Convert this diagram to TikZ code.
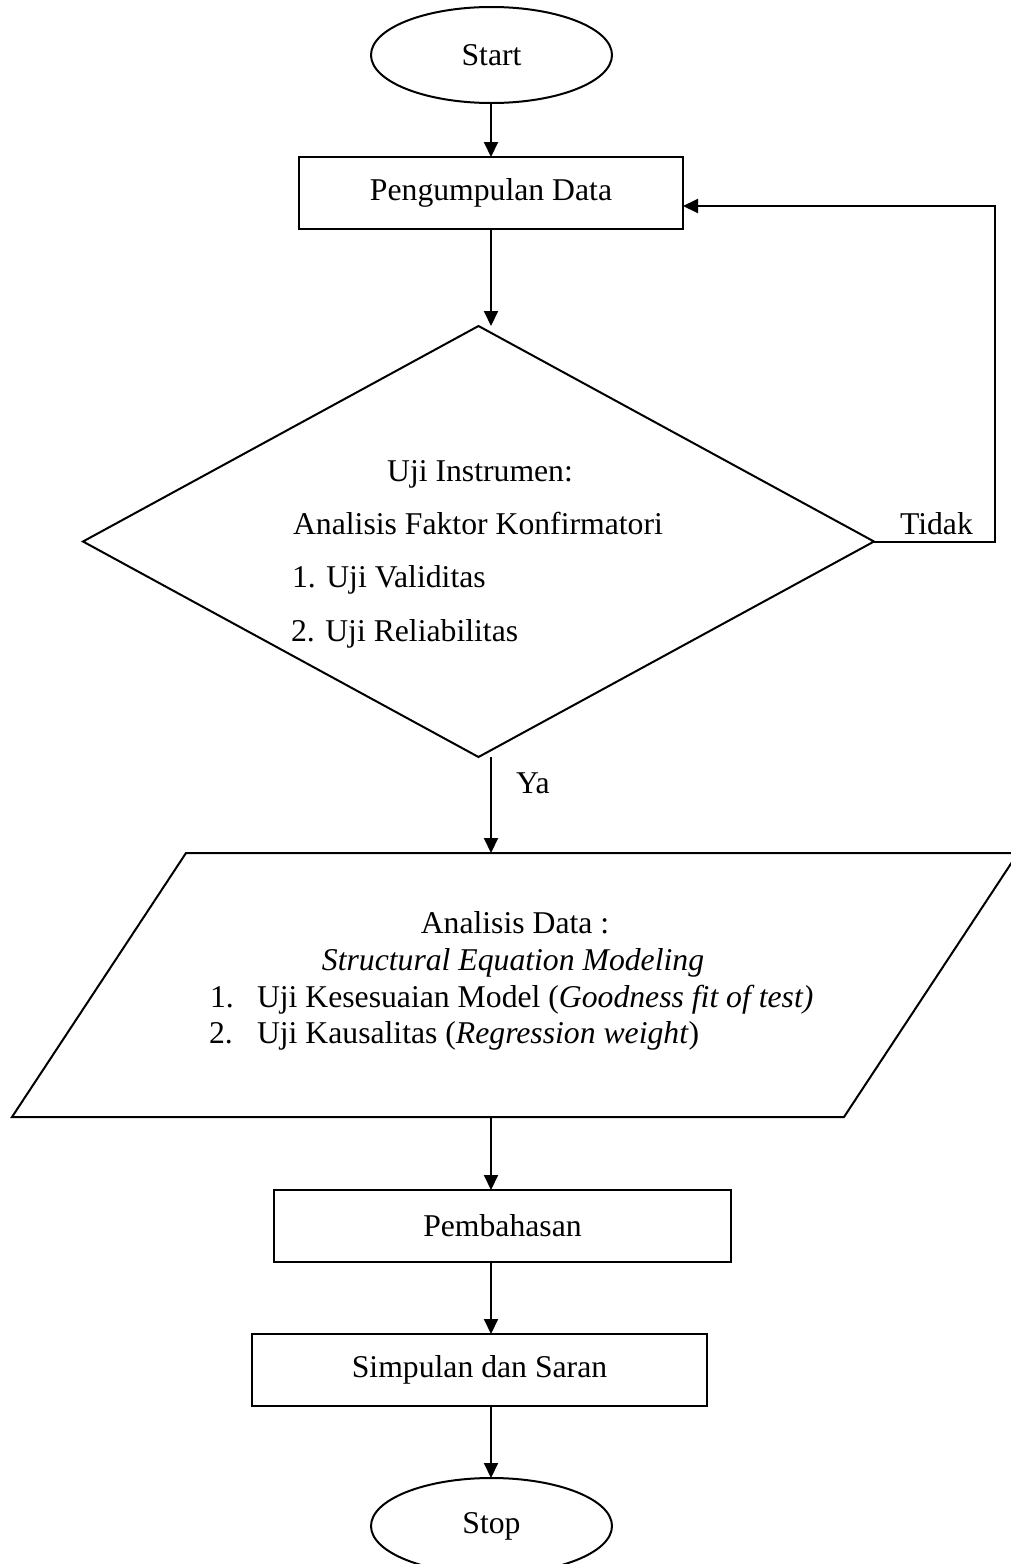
\documentclass[tikz,border=0pt]{standalone}
\usepackage{fontspec}
\setmainfont{Liberation Serif}
\usetikzlibrary{shapes.geometric,arrows.meta}

\begin{document}
\begin{tikzpicture}[x=1pt,y=-1pt,
  every node/.style={font=\fontsize{31.7}{38}\selectfont, inner sep=0pt, outer sep=0pt},
  flow/.style={line width=2pt, draw=black},
  arr/.style={flow, -{Triangle[length=15pt,width=14pt]}},
  terminal/.style={ellipse, draw, line width=2pt, minimum width=241pt, minimum height=96pt},
  procbox/.style={rectangle, draw, line width=2pt, minimum height=72pt},
  decision/.style={diamond, draw, line width=2pt},
]
\useasboundingbox (0,0) rectangle (1010,1564);

% terminals and process boxes
\node[terminal] (start) at (491.5,55) {Start};
\node[procbox, minimum width=384pt] (collect) at (491,193) {Pengumpulan Data};

% decision: instrument test
\node[decision, minimum width=791pt, minimum height=431pt] (test) at (478.5,541.5) {};
\node[anchor=base] (t1) at (480,481) {Uji Instrumen:};
\node[anchor=base] (t2) at (478,534) {Analisis Faktor Konfirmatori};
\node[anchor=base west] (t3) at (292,587) {1. Uji Validitas};
\node[anchor=base west] (t4) at (291,641) {2. Uji Reliabilitas};

% data analysis (input/output parallelogram)
\coordinate (pTL) at (186,853);
\coordinate (pTR) at (1018,853);
\coordinate (pBR) at (844,1117);
\coordinate (pBL) at (12,1117);
\draw[flow] (pTL) -- (pTR) -- (pBR) -- (pBL) -- cycle;
\node[anchor=base] (a1) at (515,933) {Analisis Data :};
\node[anchor=base] (a2) at (513,970) {\itshape Structural Equation Modeling};
\node[anchor=base west] (a3n) at (210,1007) {1.};
\node[anchor=base west] (a3) at (257,1007) {Uji Kesesuaian Model (\textit{Goodness fit of test)}};
\node[anchor=base west] (a4n) at (209,1043) {2.};
\node[anchor=base west] (a4) at (257,1043) {Uji Kausalitas (\textit{Regression weight})};

\node[procbox, minimum width=457pt] (discuss) at (502.5,1226) {Pembahasan};
\node[procbox, minimum width=455pt] (conclude) at (479.5,1370) {Simpulan dan Saran};
\node[terminal] (stop) at (491.5,1526) {Stop};

% branch labels
\node[anchor=base west] (no) at (900,534) {Tidak};
\node[anchor=base west] (yes) at (516,793) {Ya};

% connectors
\coordinate (turn) at (995,541.5);
\draw[arr] (start.south -| collect.south) -- (collect.north);
\draw[arr] (collect.south) -- (collect.south |- test.north);
\draw[arr] (test.east) -- (turn) |- ([yshift=-13pt]collect.east);
\draw[arr] (test.south -| collect.south) -- (collect.south |- pTL);
\draw[arr] (collect.south |- pBL) -- (collect.south |- discuss.north);
\draw[arr] (collect.south |- discuss.south) -- (collect.south |- conclude.north);
\draw[arr] (collect.south |- conclude.south) -- (collect.south |- stop.north);
\end{tikzpicture}
\end{document}
